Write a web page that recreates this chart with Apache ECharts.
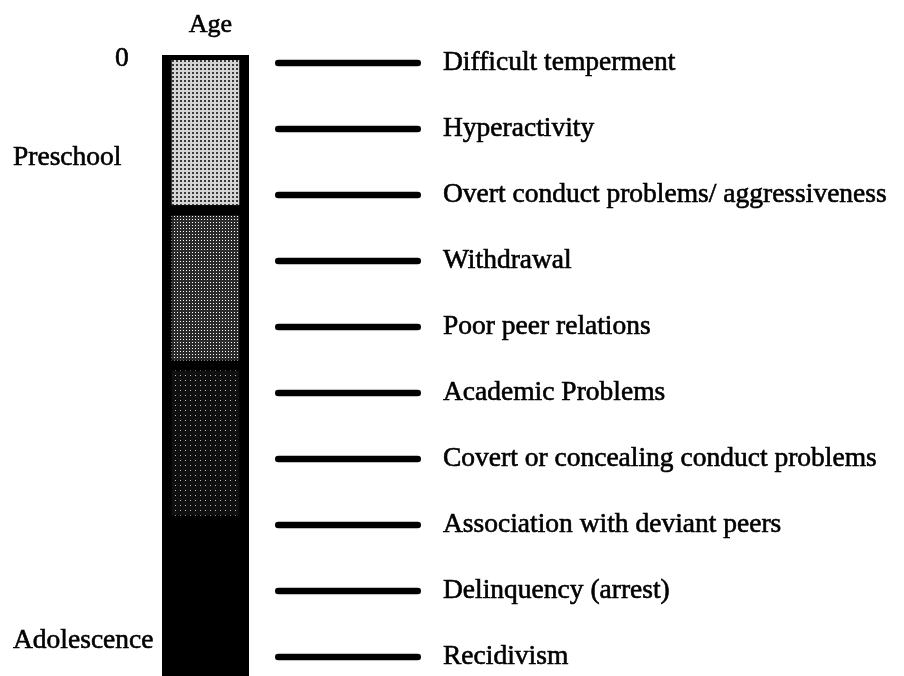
<!DOCTYPE html>
<html><head><meta charset="utf-8">
<script src="https://cdn.jsdelivr.net/npm/echarts@6/dist/echarts.min.js"></script>
<style>html,body{margin:0;padding:0;background:#fff}#c{width:904px;height:676px}</style>
</head><body><div id="c"></div>
<script>
// ---- data ----
const ageAxisCategory = ['Age'];
const stageNames = ['Early childhood', 'School entry', 'Middle childhood', 'Adolescence'];
const stageSpans = [1, 1, 1, 1];
const ageMarkLabels = ['0', 'Preschool', 'Adolescence'];
const ageMarkValues = [0, 0.66, 3.77];
const riskFactors = [
  'Difficult temperment',
  'Hyperactivity',
  'Overt conduct problems/ aggressiveness',
  'Withdrawal',
  'Poor peer relations',
  'Academic Problems',
  'Covert or concealing conduct problems',
  'Association with deviant peers',
  'Delinquency (arrest)',
  'Recidivism'
];
const riskLineLength = [1, 1, 1, 1, 1, 1, 1, 1, 1, 1];

// ---- styles ----
const FONT = '"Liberation Serif", "Times New Roman", serif';
const TXT = { fontFamily: FONT, fontSize: 27.5, color: '#000', textBorderColor: '#000', textBorderWidth: 0.6 };
const stageStyles = [
  { color: '#d4d4d4', decal: { symbol: 'rect', symbolSize: 1, dashArrayX: [2, 2], dashArrayY: [2, 2], color: '#3a3a3a' } },
  { color: '#2a2a2a', decal: { symbol: 'rect', symbolSize: 1, dashArrayX: [1, 2], dashArrayY: [1, 2], color: '#ffffff' } },
  { color: '#101010', decal: { symbol: 'rect', symbolSize: 1, dashArrayX: [1, 4], dashArrayY: [1, 4], color: '#bbbbbb' } },
  { color: '#000000' }
];

const chart = echarts.init(document.getElementById('c'), null, { renderer: 'canvas' });
const totalSpan = stageSpans.reduce((a, b) => a + b, 0);

const stageSeries = stageNames.map((name, i) => ({
  name: name,
  type: 'bar',
  xAxisIndex: 0,
  yAxisIndex: 0,
  stack: 'age',
  barWidth: 78,
  data: [stageSpans[i]],
  silent: true,
  itemStyle: Object.assign({ borderColor: '#000', borderWidth: 5 }, stageStyles[i])
}));

chart.setOption({
  animation: false,
  backgroundColor: '#fff',
  grid: [
    { left: 162, width: 87, top: 55, bottom: 0, show: true, backgroundColor: '#000', borderWidth: 0 },
    { left: 275, width: 146, top: 63, bottom: 19 }
  ],
  xAxis: [
    {
      gridIndex: 0, type: 'category', data: ageAxisCategory, position: 'top',
      axisLine: { show: false }, axisTick: { show: false },
      axisLabel: Object.assign({ margin: 17, padding: [0, 0, 0, 10] }, TXT, { fontSize: 26 })
    },
    { gridIndex: 1, type: 'value', min: 0, max: 1, show: false }
  ],
  yAxis: [
    {
      gridIndex: 0, type: 'value', inverse: true, min: 0, max: totalSpan,
      axisLine: { show: false }, axisTick: { show: false }, splitLine: { show: false },
      axisLabel: {
        customValues: ageMarkValues,
        margin: 149, align: 'left',
        formatter: function (v) {
          let best = 0;
          ageMarkValues.forEach((m, i) => { if (Math.abs(m - v) < Math.abs(ageMarkValues[best] - v)) best = i; });
          return best === 0 ? '{z|' + ageMarkLabels[best] + '}' : '{n|' + ageMarkLabels[best] + '}';
        },
        rich: {
          z: Object.assign({ padding: [8, 0, 0, 102] }, TXT),
          n: Object.assign({}, TXT)
        }
      }
    },
    {
      gridIndex: 1, type: 'category', data: riskFactors, inverse: true, boundaryGap: false,
      position: 'right',
      axisLine: { show: false }, axisTick: { show: false }, splitLine: { show: false },
      axisLabel: Object.assign({ margin: 22, align: 'left', padding: [13, 0, 0, 0] }, TXT)
    }
  ],
  series: stageSeries.concat([{
    name: 'Risk factors',
    type: 'bar',
    xAxisIndex: 1,
    yAxisIndex: 1,
    data: riskLineLength,
    barWidth: 6.5,
    clip: false,
    silent: true,
    itemStyle: { color: '#000', borderRadius: 3.25 }
  }])
});
</script>
</body></html>
